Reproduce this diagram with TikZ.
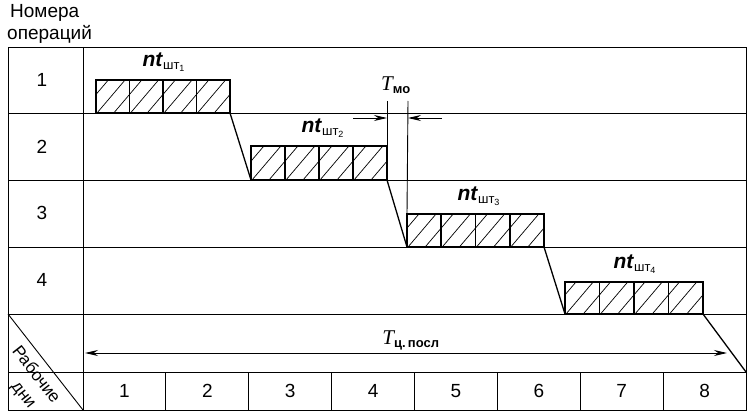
\documentclass[tikz,border=0pt]{standalone}
\usepackage{fontspec}
\setmainfont{Liberation Sans}
\newfontfamily\tsrf{Liberation Serif}
\usetikzlibrary{arrows.meta}
\begin{document}
\begin{tikzpicture}[x=1pt,y=-1pt,
  gridline/.style={line width=0.9pt},
  barbox/.style={line width=1.8pt},
  hatchline/.style={line width=0.7pt},
  joinline/.style={line width=1.3pt},
  dimline/.style={line width=0.9pt},
  tip/.style={-{Stealth[length=13pt,width=6pt]}},
  lbl/.style={font=\fontsize{19}{22}\selectfont, inner sep=0pt},
  ntl/.style={font=\fontsize{21}{24}\selectfont, inner sep=0pt}]
\useasboundingbox (0,0) rectangle (750,412);
% table
\draw[gridline] (8,47) rectangle (746,410);
\draw[gridline] (83,47) -- (83,410);
\foreach \yy in {113,180,247,314,372} \draw[gridline] (8,\yy) -- (746,\yy);
\foreach \i in {1,...,7} \draw[gridline] ({83+\i*82.875},372) -- ({83+\i*82.875},410);
\draw[gridline] (8,314) -- (83,410);
% header texts
\node[lbl,anchor=west] (hdr1) at (10,13) {Номера};
\node[lbl,anchor=west] (hdr2) at (7,34) {операций};
\node[lbl] (r1) at (42,80) {1};
\node[lbl] (r2) at (42,147) {2};
\node[lbl] (r3) at (42,213) {3};
\node[lbl] (r4) at (42,280) {4};
\foreach \i in {1,...,8} \node[lbl] (d\i) at ({83+(\i-0.5)*82.875},391) {\i};
\node[lbl,font=\fontsize{17}{20}\selectfont,rotate=-52] (rab) at (37,374) {Рабочие};
\node[lbl,font=\fontsize{17}{20}\selectfont,rotate=-52] (dni) at (22,396) {дни};
% bars
\foreach \n/\xa/\ya/\xb/\yb in {1/96/80/230/113, 2/251/146/387/180, 3/407/214/544/247, 4/565/282/703/314}{
  \coordinate (b\n tl) at (\xa,\ya);
  \coordinate (b\n br) at (\xb,\yb);
  \coordinate (b\n bl) at (\xa,\yb);
  \coordinate (b\n tr) at (\xb,\ya);
  \begin{scope}
    \clip (\xa,\ya) rectangle (\xb,\yb);
    \pgfmathsetmacro{\hs}{(\xb-\xa)/8}
    \foreach \k in {-3,...,8}
      \draw[hatchline] ({\xa+\k*\hs+1},\yb) -- ({\xa+\k*\hs+1+0.85*(\yb-\ya)},\ya);
  \end{scope}
  \foreach \c in {1,2,3} \draw[barbox] ({\xa+\c*(\xb-\xa)/4},\ya) -- ({\xa+\c*(\xb-\xa)/4},\yb);
  \draw[barbox] (\xa,\ya) rectangle (\xb,\yb);
}
% joins
\draw[joinline] (b1br) -- (b2bl);
\draw[joinline] (b2br) -- (b3bl);
\draw[joinline] (b3br) -- (b4bl);
\coordinate (endc) at (746,372);
\draw[joinline] (b4br) -- (endc);
% labels on bars
\node[ntl] (nt1) at (164,62) {\textit{\textbf{nt}}\textsubscript{\fontsize{13}{13}\selectfont шт\textsubscript{\fontsize{9}{9}\selectfont 1}}};
\node[ntl] (nt2) at (323,128) {\textit{\textbf{nt}}\textsubscript{\fontsize{13}{13}\selectfont шт\textsubscript{\fontsize{9}{9}\selectfont 2}}};
\node[ntl] (nt3) at (479,196) {\textit{\textbf{nt}}\textsubscript{\fontsize{13}{13}\selectfont шт\textsubscript{\fontsize{9}{9}\selectfont 3}}};
\node[ntl] (nt4) at (635,264) {\textit{\textbf{nt}}\textsubscript{\fontsize{13}{13}\selectfont шт\textsubscript{\fontsize{9}{9}\selectfont 4}}};
% T_mo
\coordinate (vm1) at (387,101);
\coordinate (vm2) at (408,101);
\draw[dimline] (vm1) -- (b2tr);
\draw[dimline] (vm2) -- (b3tl);
\coordinate (am1) at (353,118);
\coordinate (am1e) at (387,118);
\coordinate (am2) at (442,118);
\coordinate (am2e) at (408,118);
\draw[dimline,tip] (am1) -- (am1e);
\draw[dimline,tip] (am2) -- (am2e);
\node[ntl] (tmo) at (396,85) {{\tsrf\itshape T}\textsubscript{\fontsize{13}{13}\selectfont\bfseries мо}};
% T_c.posl
\coordinate (tc1) at (727,353);
\coordinate (tc2) at (85,353);
\draw[dimline,{Stealth[length=13pt,width=6pt]}-{Stealth[length=13pt,width=6pt]}] (tc2) -- (tc1);
\node[ntl] (tcp) at (411,340) {{\tsrf\itshape T}\textsubscript{\fontsize{13}{13}\selectfont\bfseries ц.\,посл}};
\end{tikzpicture}
\end{document}
